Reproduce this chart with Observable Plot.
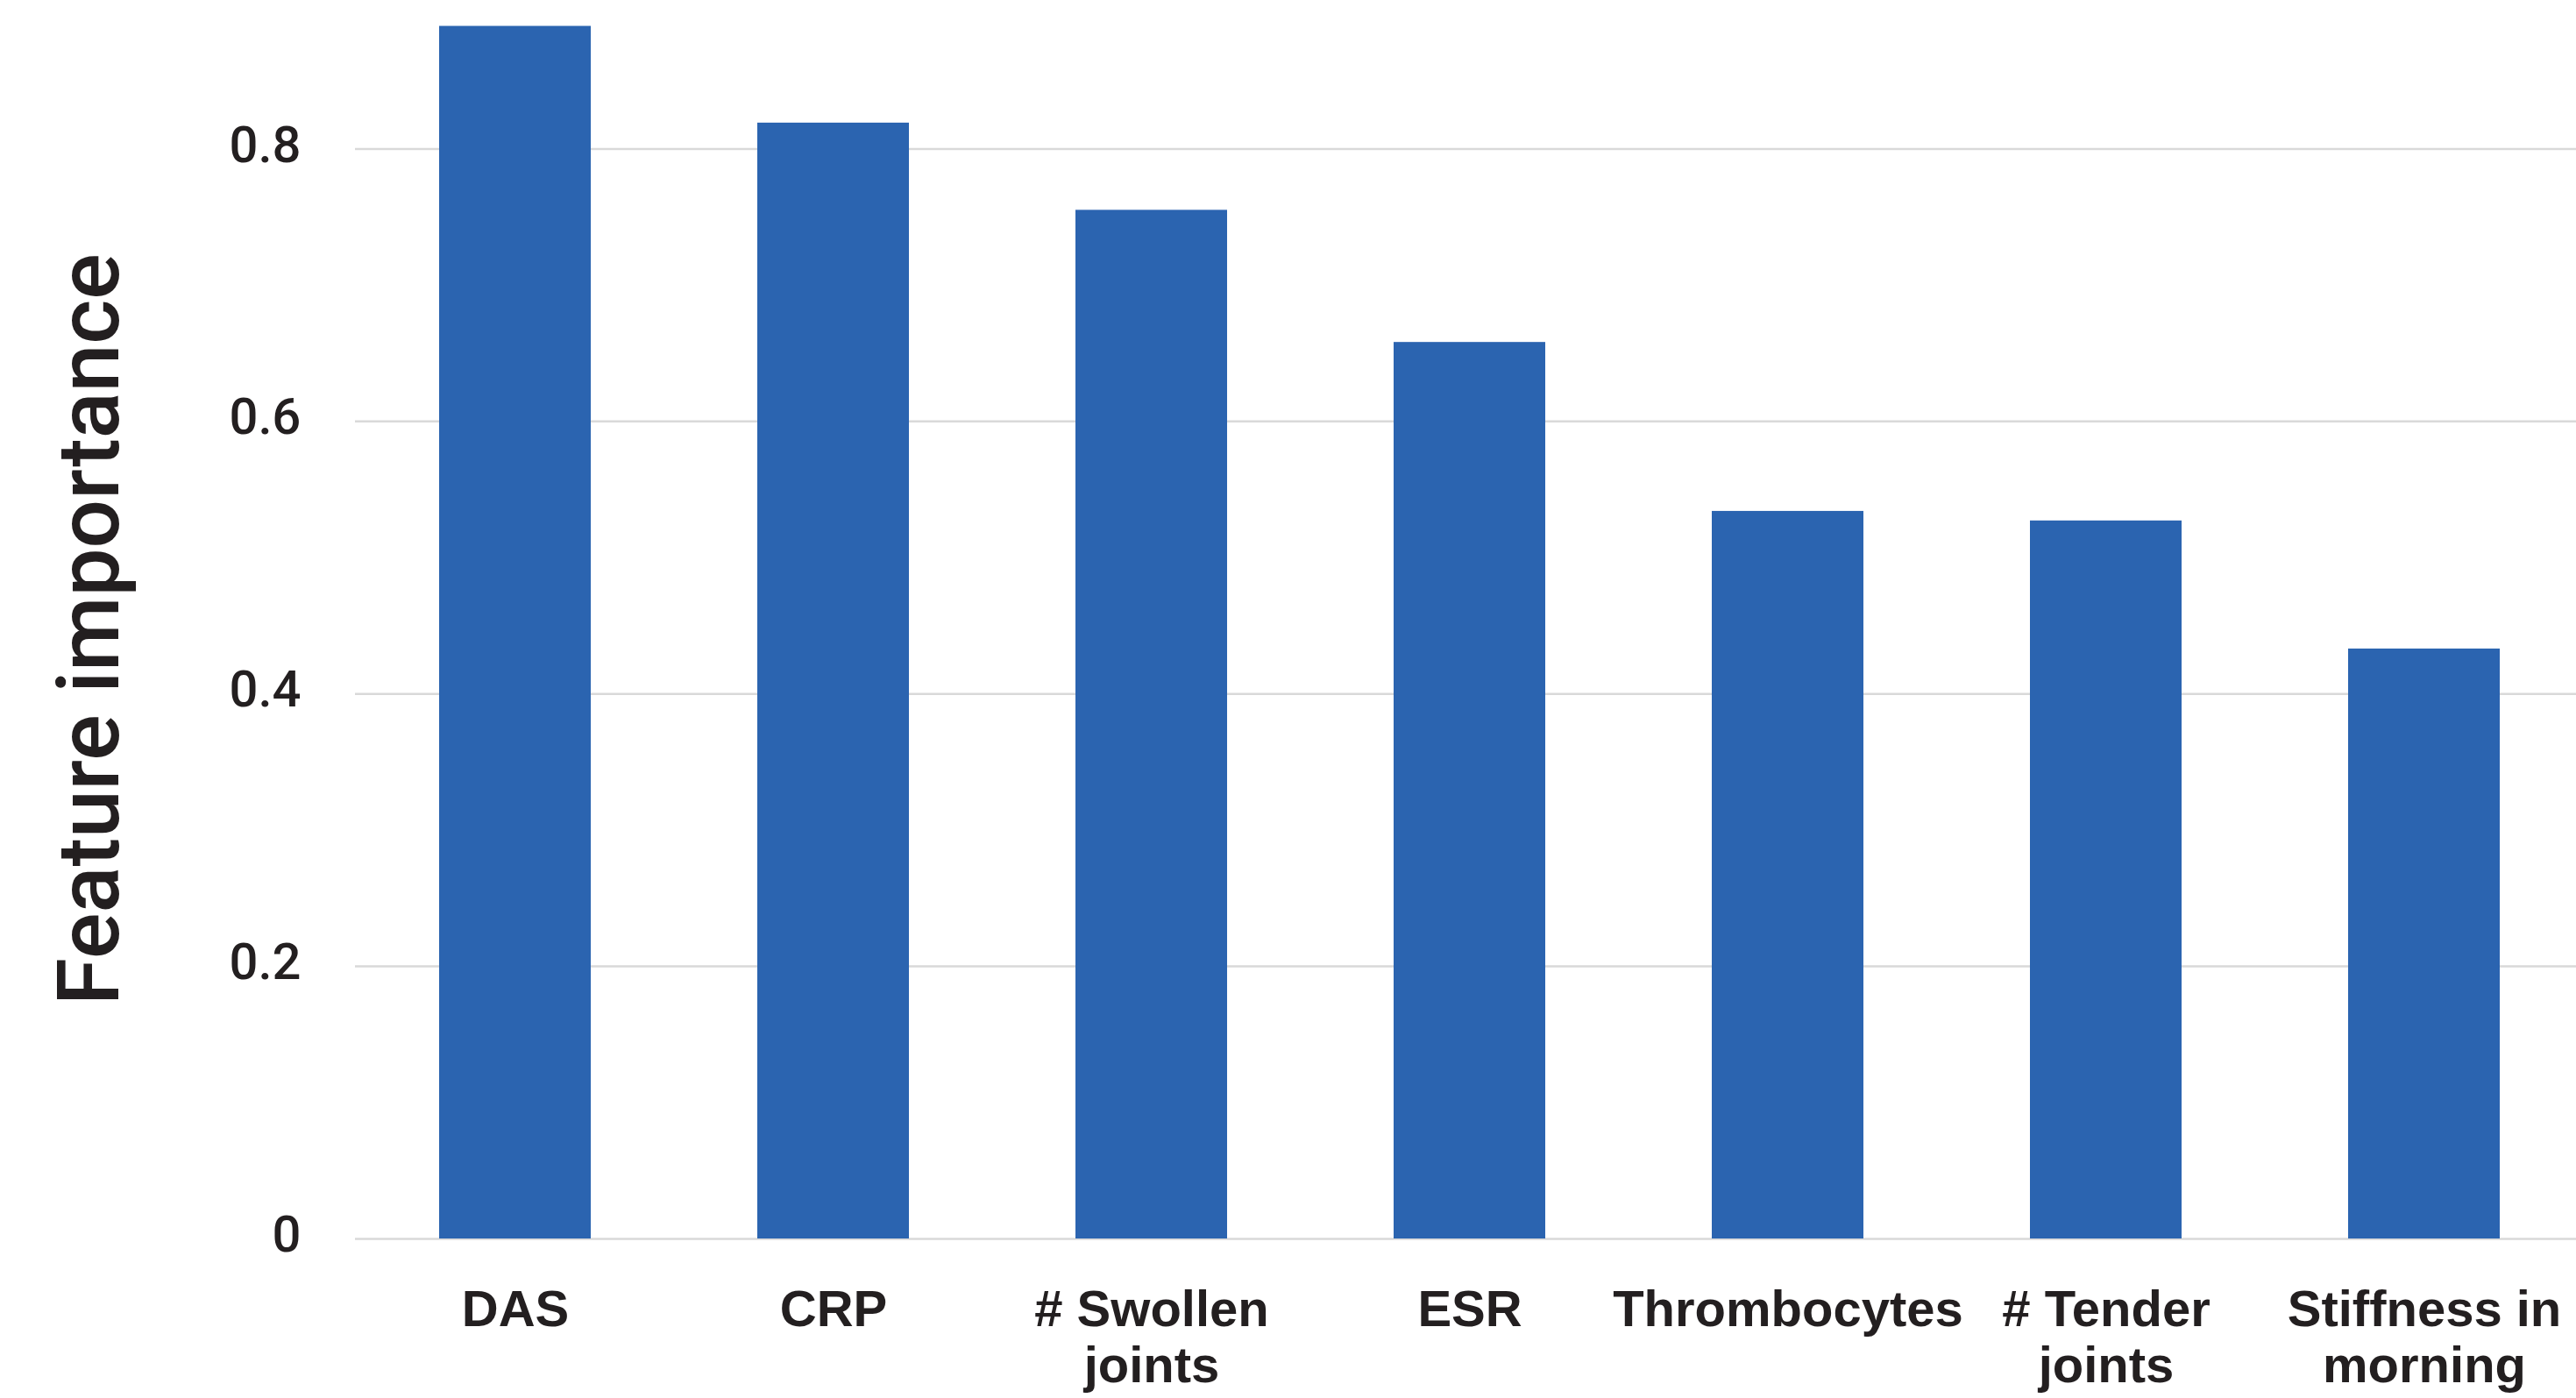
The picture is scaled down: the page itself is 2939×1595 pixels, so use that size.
<!DOCTYPE html>
<html>
<head>
<meta charset="utf-8">
<script src="https://cdn.jsdelivr.net/npm/d3@7"></script>
<script src="https://cdn.jsdelivr.net/npm/@observablehq/plot@0.6"></script>
<style>
  html, body { margin: 0; padding: 0; background: #ffffff; }
  #chart svg { display: block; }
</style>
</head>
<body>
<div id="chart"></div>
<script>
const features = ["DAS", "CRP", "# Swollen joints", "ESR", "Thrombocytes", "# Tender joints", "Stiffness in morning"];
const importance = [0.890, 0.819, 0.755, 0.658, 0.534, 0.527, 0.433];
const featureTickLabels = ["DAS", "CRP", "# Swollen\njoints", "ESR", "Thrombocytes", "# Tender\njoints", "Stiffness in\nmorning"];
const yTicks = [0, 0.2, 0.4, 0.6, 0.8];
const yTickLabels = ["0", "0.2", "0.4", "0.6", "0.8"];
const yTitle = ["Feature importance"];

const rows = features.map((f, i) => ({feature: f, value: importance[i]}));
const xLabel = new Map(features.map((f, i) => [f, featureTickLabels[i]]));
const yLabel = new Map(yTicks.map((t, i) => [t, yTickLabels[i]]));

const ink = "#231f20";

const chart = Plot.plot({
  width: 2939,
  height: 1595,
  marginLeft: 405,
  marginRight: -9,
  marginTop: 14,
  marginBottom: 182,
  style: {background: "#ffffff", color: ink},
  x: {type: "band", domain: features, paddingInner: 0.524, paddingOuter: 0.262, label: null},
  y: {domain: [0, 0.9], label: null},
  marks: [
    Plot.gridY(yTicks, {stroke: "#d9d9d9", strokeOpacity: 1, strokeWidth: 2.5}),
    Plot.barY(rows, {x: "feature", y: "value", fill: "#2b64b0"}),
    Plot.axisY(yTicks, {
      tickSize: 0, tickPadding: 62, fontSize: 58, dy: -4,
      fontFamily: "Roboto, 'Liberation Sans', sans-serif",
      fontWeight: 500,
      tickFormat: d => yLabel.get(d), label: null, fill: ink
    }),
    Plot.axisX({
      tickSize: 0, tickPadding: 54, fontSize: 58, lineHeight: 1.1,
      fontFamily: "'Liberation Sans', Arial, sans-serif",
      fontWeight: "bold",
      tickFormat: d => xLabel.get(d), label: null, fill: ink
    }),
    Plot.text(yTitle, {
      frameAnchor: "left", textAnchor: "middle", rotate: -90, dx: -302, dy: 4,
      fontSize: 98, fontFamily: "Roboto, 'Liberation Sans', sans-serif",
      fontWeight: 500,
      fill: ink
    })
  ]
});

document.getElementById("chart").appendChild(chart);
</script>
</body>
</html>
